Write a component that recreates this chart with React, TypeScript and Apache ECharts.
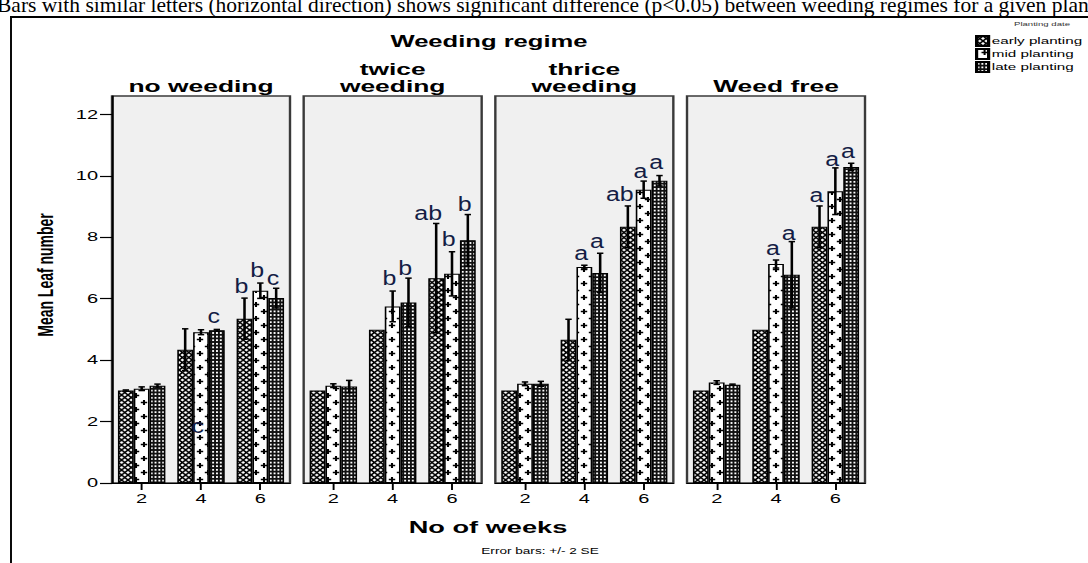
import React, { useEffect, useRef } from 'react';
import * as echarts from 'echarts';

// ---------- texts ----------
const caption =
  'Bars with similar letters (horizontal direction) shows significant difference (p<0.05) between weeding regimes for a given planting date';
const chartTitle = 'Weeding regime';
const xAxisTitle = 'No of weeks';
const yAxisTitle = 'Mean Leaf number';
const footnote = 'Error bars: +/- 2 SE';
const legendTitle = 'Planting date';

// ---------- data ----------
const regimes = ['no weeding', 'twice\nweeding', 'thrice\nweeding', 'Weed free'];
const weeks = ['2', '4', '6'];
const plantings = ['early planting', 'mid planting', 'late planting'];
const yTickValues = [0, 2, 4, 6, 8, 10, 12];
const yMax = 12.6;

// mean leaf number [regime][week]
const earlyMean = [
  [3.01, 4.34, 5.35],
  [3.01, 4.99, 6.67],
  [3.01, 4.66, 8.34],
  [3.01, 4.99, 8.34],
];
const midMean = [
  [3.07, 4.91, 6.26],
  [3.17, 5.75, 6.81],
  [3.23, 7.03, 9.55],
  [3.27, 7.13, 9.5],
];
const lateMean = [
  [3.17, 4.97, 6.02],
  [3.14, 5.88, 7.9],
  [3.23, 6.84, 9.84],
  [3.2, 6.78, 10.29],
];

// +/- 2 SE half-widths [regime][week]
const earlyErr = [
  [0.02, 0.68, 0.67],
  [0, 0, 1.78],
  [0, 0.67, 0.68],
  [0, 0, 0.68],
];
const midErr = [
  [0.06, 0.08, 0.25],
  [0.06, 0.5, 0.72],
  [0.06, 0.06, 0.28],
  [0.06, 0.13, 0.76],
];
const lateErr = [
  [0.05, 0.03, 0.32],
  [0.2, 0.79, 0.84],
  [0.08, 0.64, 0.17],
  [0.02, 1.08, 0.12],
];

// significance letters [regime][week] and the value at which each is drawn
const earlyLetters = [
  ['', '', 'b'],
  ['', '', 'ab'],
  ['', '', 'ab'],
  ['', '', 'a'],
];
const earlyLetterAt = [
  [0, 0, 6.4],
  [0, 0, 8.79],
  [0, 0, 9.39],
  [0, 0, 9.36],
];
const midLetters = [
  ['', 'c', 'b'],
  ['', 'b', 'b'],
  ['', 'a', 'a'],
  ['', 'a', 'a'],
];
const midLetterAt = [
  [0, 1.85, 6.92],
  [0, 6.67, 7.92],
  [0, 7.47, 10.15],
  [0, 7.65, 10.53],
];
const lateLetters = [
  ['', 'c', 'c'],
  ['', 'b', 'b'],
  ['', 'a', 'a'],
  ['', 'a', 'a'],
];
const lateLetterAt = [
  [0, 5.42, 6.67],
  [0, 7.0, 9.06],
  [0, 7.87, 10.42],
  [0, 8.14, 10.8],
];

// ---------- layout (the picture is stretched horizontally) ----------
const SX = 1.6;
const W = 680;
const H = 563;
const px = (x: number) => x / SX;
const FONT = '"Liberation Sans", Arial, Helvetica, sans-serif';
const SERIF = '"Liberation Serif", "Times New Roman", serif';
const LETTER_COLOR = '#141d45';

const panelLeft = (i: number) => px(112 + i * 191.67);
const panelWidth = px(178);
const GRID_TOP = 96;
const GRID_H = 387;

function svgUrl(w: number, h: number, body: string) {
  const s = `<svg xmlns="http://www.w3.org/2000/svg" width="${w}" height="${h}" viewBox="0 0 ${w} ${h}">${body}</svg>`;
  return 'data:image/svg+xml;charset=utf-8,' + encodeURIComponent(s);
}

const patterns = [
  {
    image: svgUrl(
      4,
      5,
      '<rect width="4" height="5" fill="#fff"/><path d="M0 0L4 5M4 0L0 5" stroke="#000" stroke-width="1.25" fill="none"/>'
    ),
    imageWidth: 4,
    imageHeight: 5,
    repeat: 'repeat',
  },
  {
    image: svgUrl(
      10,
      14,
      '<rect width="10" height="14" fill="#fff"/><path d="M3 3.5H7M5 1V6M-2 10.5H2M0 8V13M8 10.5H12M10 8V13" stroke="#000" stroke-width="1.3" fill="none"/>'
    ),
    imageWidth: 10,
    imageHeight: 14,
    repeat: 'repeat',
  },
  {
    image: svgUrl(
      2.4,
      3.6,
      '<rect width="2.4" height="3.6" fill="#111"/><rect x="0.6" y="0.9" width="1.2" height="1.8" fill="#fff"/>'
    ),
    imageWidth: 2.4,
    imageHeight: 3.6,
    repeat: 'repeat',
  },
];

function buildOption() {
  const means = [earlyMean, midMean, lateMean];
  const errs = [earlyErr, midErr, lateErr];
  const letters = [earlyLetters, midLetters, lateLetters];
  const letterAt = [earlyLetterAt, midLetterAt, lateLetterAt];

  const grid = regimes.map((_, i) => ({
    left: panelLeft(i),
    top: GRID_TOP,
    width: panelWidth,
    height: GRID_H,
    show: true,
    backgroundColor: '#f0f0f0',
    borderColor: '#3a3a3a',
    borderWidth: 1.5,
    containLabel: false,
    outerBoundsMode: 'none',
  }));

  const xAxis = regimes.map((_, i) => ({
    type: 'category',
    gridIndex: i,
    data: weeks,
    boundaryGap: true,
    axisLine: { show: true, lineStyle: { color: '#000', width: 1.2 } },
    axisTick: { show: true, alignWithLabel: true, length: 7, lineStyle: { color: '#000', width: 1.2 } },
    axisLabel: { fontSize: 12.5, color: '#000', margin: 9, fontFamily: FONT },
    splitLine: { show: false },
  }));

  const yAxis = regimes.map((_, i) =>
    i === 0
      ? {
          type: 'value',
          gridIndex: i,
          min: 0,
          max: yMax,
          axisLine: { show: true, lineStyle: { color: '#000', width: 1.2 } },
          axisTick: {
            show: true,
            length: px(12),
            customValues: yTickValues,
            lineStyle: { color: '#000', width: 1.2 },
          },
          axisLabel: {
            customValues: yTickValues,
            fontSize: 12.5,
            color: '#000',
            margin: px(14),
            fontFamily: FONT,
          },
          splitLine: { show: false },
        }
      : { type: 'value', gridIndex: i, min: 0, max: yMax, show: false, splitLine: { show: false } }
  );

  const series: any[] = [];
  regimes.forEach((_, i) => {
    plantings.forEach((name, k) => {
      series.push({
        type: 'bar',
        name,
        xAxisIndex: i,
        yAxisIndex: i,
        data: means[k][i],
        barGap: '0%',
        barCategoryGap: '20%',
        silent: true,
        itemStyle: { color: patterns[k], borderColor: '#000', borderWidth: 1 },
        emphasis: { disabled: true },
      });
    });

    const errData: number[][] = [];
    plantings.forEach((_, k) => {
      weeks.forEach((__, c) => {
        errData.push([c, means[k][i][c], errs[k][i][c], k]);
      });
    });
    series.push({
      type: 'custom',
      name: 'err' + i,
      xAxisIndex: i,
      yAxisIndex: i,
      z: 5,
      silent: true,
      encode: { x: 0, y: 1 },
      data: errData,
      renderItem: (params: any, api: any) => {
        const c = api.value(0);
        const m = api.value(1);
        const e = api.value(2);
        const k = api.value(3);
        if (!e) return null;
        const band = api.size([1, 0])[0];
        const bw = (band * 0.8) / 3;
        const cx = api.coord([c, 0])[0] + (k - 1) * bw;
        const yTop = api.coord([c, m + e])[1];
        const yBot = api.coord([c, m - e])[1];
        const cap = 2;
        return {
          type: 'group',
          children: [
            { type: 'line', shape: { x1: cx, y1: yTop, x2: cx, y2: yBot }, style: { stroke: '#000', lineWidth: 1.6 } },
            { type: 'line', shape: { x1: cx - cap, y1: yTop, x2: cx + cap, y2: yTop }, style: { stroke: '#000', lineWidth: 1.5 } },
            { type: 'line', shape: { x1: cx - cap, y1: yBot, x2: cx + cap, y2: yBot }, style: { stroke: '#000', lineWidth: 1.5 } },
          ],
        };
      },
    });

    const letData: number[][] = [];
    const letText: string[] = [];
    plantings.forEach((_, k) => {
      weeks.forEach((__, c) => {
        const t = letters[k][i][c];
        if (t) {
          letData.push([c, letterAt[k][i][c], k]);
          letText.push(t);
        }
      });
    });
    series.push({
      type: 'custom',
      name: 'letters' + i,
      xAxisIndex: i,
      yAxisIndex: i,
      z: 6,
      silent: true,
      encode: { x: 0, y: 1 },
      data: letData,
      renderItem: (params: any, api: any) => {
        const c = api.value(0);
        const v = api.value(1);
        const k = api.value(2);
        const t = letText[params.dataIndex];
        const band = api.size([1, 0])[0];
        const bw = (band * 0.8) / 3;
        const dx = t.length > 1 ? -5 : -2;
        const cx = api.coord([c, 0])[0] + (k - 1) * bw + dx;
        const cy = api.coord([c, v])[1];
        return {
          type: 'text',
          x: cx,
          y: cy,
          scaleX: 0.8,
          style: {
            text: t,
            fill: LETTER_COLOR,
            font: '19.5px ' + FONT,
            textAlign: 'center',
            textVerticalAlign: 'middle',
            align: 'center',
            verticalAlign: 'middle',
          },
        };
      },
    });
  });

  const headerCenters = regimes.map((_, i) => panelLeft(i) + panelWidth / 2);

  const centered = (text: string, x: number, y: number, font: string, fill = '#000') => ({
    type: 'text',
    x,
    y,
    silent: true,
    style: {
      text,
      fill,
      font,
      textAlign: 'center',
      textVerticalAlign: 'middle',
      align: 'center',
      verticalAlign: 'middle',
    },
  });

  const graphic: any[] = [
    {
      type: 'text',
      x: px(-3),
      y: 5,
      scaleX: 1 / SX,
      silent: true,
      style: {
        text: caption,
        fill: '#000',
        font: '21.5px ' + SERIF,
        textAlign: 'left',
        textVerticalAlign: 'middle',
        align: 'left',
        verticalAlign: 'middle',
      },
    },
    {
      type: 'line',
      silent: true,
      shape: { x1: px(10), y1: 17, x2: W, y2: 17 },
      style: { stroke: '#000', lineWidth: 1.8 },
    },
    {
      type: 'line',
      silent: true,
      shape: { x1: px(11), y1: 16.5, x2: px(11), y2: H },
      style: { stroke: '#000', lineWidth: 1.2 },
    },
    centered(chartTitle, px(489), 42, 'bold 16px ' + FONT),
    centered(legendTitle, px(1042), 24, '6px ' + FONT, '#333'),
    ...regimes.map((r, i) => ({
      type: 'text',
      x: headerCenters[i],
      y: 95,
      silent: true,
      style: {
        text: r,
        fill: '#000',
        font: 'bold 16.5px ' + FONT,
        lineHeight: 17,
        textAlign: 'center',
        textVerticalAlign: 'bottom',
        align: 'center',
        verticalAlign: 'bottom',
      },
    })),
    { ...centered(yAxisTitle, px(45), 275, 'bold 14px ' + FONT), rotation: Math.PI / 2 },
    centered(xAxisTitle, px(488), 527, 'bold 17px ' + FONT),
    centered(footnote, px(540), 551, '8.5px ' + FONT),
  ];

  return {
    animation: false,
    backgroundColor: '#fff',
    grid,
    xAxis,
    yAxis,
    legend: {
      data: plantings,
      orient: 'vertical',
      left: px(975),
      top: 35,
      itemWidth: px(12),
      itemHeight: 10,
      itemGap: 1,
      icon: 'rect',
      selectedMode: false,
      padding: 0,
      textStyle: { fontSize: 9.5, color: '#000', fontFamily: FONT, padding: [0, 0, 0, -3] },
    },
    series,
    graphic,
  };
}

export default function App() {
  const ref = useRef<HTMLDivElement>(null);
  useEffect(() => {
    if (!ref.current) return;
    const chart = echarts.init(ref.current, null, { renderer: 'svg', width: W, height: H });
    chart.setOption(buildOption() as any);
    return () => chart.dispose();
  }, []);
  return (
    <div
      style={{
        position: 'fixed',
        left: 0,
        top: 0,
        width: 1088,
        height: 563,
        overflow: 'hidden',
        background: '#fff',
      }}
    >
      <div
        ref={ref}
        style={{ width: W, height: H, transform: `scaleX(${SX})`, transformOrigin: '0 0' }}
      />
    </div>
  );
}
